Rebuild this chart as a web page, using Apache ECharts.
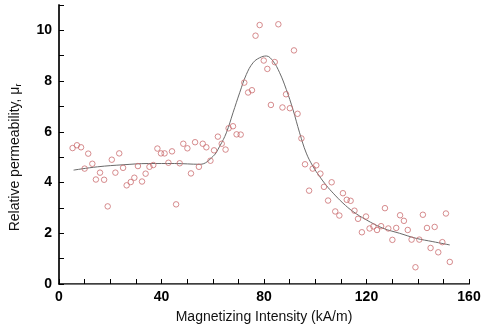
<!DOCTYPE html>
<html>
<head>
<meta charset="utf-8">
<script src="https://cdn.jsdelivr.net/npm/echarts@6/dist/echarts.min.js"></script>
<style>html,body{margin:0;padding:0;background:#fff}#c{width:488px;height:329px}</style>
</head>
<body>
<div id="c"></div>
<script>
// Measured points (magnetizing intensity kA/m, relative permeability)
const measX = [5.3,7.0,8.6,10.0,11.4,13.0,14.4,16.0,17.6,19.0,20.6,22.0,23.5,25.0,26.4,28.0,29.4,30.8,32.4,33.8,35.3,36.8,38.4,39.8,41.2,42.7,44.1,45.7,47.1,48.5,50.1,51.5,53.1,54.6,56.1,57.5,59.1,60.5,62.0,63.5,65.0,66.2,67.9,69.3,70.9,72.3,73.8,75.3,76.7,78.3,79.9,81.3,82.7,84.2,85.6,87.2,88.6,90.1,91.7,93.1,94.6,96.0,97.6,99.0,100.4,102.0,103.4,105.0,106.4,107.8,109.4,110.8,112.3,113.8,115.3,116.7,118.2,119.8,121.2,122.7,124.1,125.7,127.2,128.5,130.1,131.6,133.1,134.6,136.1,137.6,139.1,140.6,142.0,143.6,145.0,146.6,148.0,149.6,151.0,152.5];
const measY = [5.36,5.47,5.39,4.55,5.14,4.74,4.12,4.39,4.11,3.06,4.90,4.39,5.15,4.58,3.89,4.02,4.19,4.65,4.04,4.35,4.62,4.69,5.34,5.15,5.15,4.78,5.23,3.14,4.76,5.53,5.35,4.36,5.59,4.62,5.53,5.39,4.86,5.27,5.81,5.53,5.30,6.14,6.22,5.90,5.89,7.94,7.55,7.64,9.79,10.21,8.81,8.48,7.06,8.75,10.24,6.96,7.48,6.93,9.21,6.71,5.74,4.72,3.68,4.55,4.68,4.35,3.83,3.29,4.01,2.86,2.70,3.58,3.32,3.28,2.89,2.57,2.04,2.66,2.19,2.27,2.13,2.28,2.99,2.19,1.74,2.21,2.71,2.49,2.13,1.75,0.66,1.75,2.73,2.21,1.42,2.25,1.25,1.65,2.78,0.87];
// Fitted curve
const fitX = [5.7,15,25,35,45,55,60.1,62.7,65.3,67.9,70.5,73.1,75.7,78.3,80.9,83.5,86.1,88.7,91.3,93.9,96.5,99.1,101.7,104.3,107,110.8,114.7,119.9,126.4,132.9,139.4,145.9,152.5];
const fitY = [4.49,4.62,4.70,4.75,4.75,4.72,5.03,5.43,5.96,6.75,7.54,8.26,8.72,8.92,8.99,8.79,8.33,7.67,6.88,5.96,5.16,4.64,4.24,3.89,3.58,3.19,2.86,2.53,2.20,2.00,1.80,1.67,1.54];
const xTickLabels = [0,40,80,120,160];
const yTickLabels = [0,2,4,6,8,10];

const font = '"Liberation Sans", Arial, Helvetica, sans-serif';
const chart = echarts.init(document.getElementById('c'), null, {renderer:'canvas'});
chart.setOption({
  animation:false,
  backgroundColor:'#fff',
  grid:{left:59,right:19,top:5,bottom:45,containLabel:false},
  xAxis:[{
    type:'value',min:0,max:160,interval:10,position:'bottom',
    name:'Magnetizing Intensity (kA/m)',nameLocation:'middle',nameGap:26,
    nameTextStyle:{fontFamily:font,fontSize:14,color:'#111'},
    axisLine:{show:true,onZero:false,lineStyle:{color:'#000',width:1.5}},
    axisTick:{show:true,inside:true,length:5,lineStyle:{color:'#000',width:1}},
    axisLabel:{fontFamily:font,fontSize:14,fontWeight:'bold',color:'#000',margin:6,
      formatter:v=>xTickLabels.includes(v)?String(v):''},
    splitLine:{show:false}
  },{
    type:'value',min:0,max:160,position:'top',
    axisLine:{show:true,lineStyle:{color:'#777',width:1}},
    axisTick:{show:false},axisLabel:{show:false},splitLine:{show:false}
  }],
  yAxis:[{
    type:'value',min:0,max:11,interval:1,position:'left',
    name:'Relative permeability, μ{s|r}',nameLocation:'middle',nameGap:36,
    nameTextStyle:{fontFamily:font,fontSize:14,color:'#111',padding:[0,26,0,0],
      rich:{s:{fontFamily:font,fontSize:9,color:'#111',padding:[6,0,0,0]}}},
    axisLine:{show:true,onZero:false,lineStyle:{color:'#000',width:1.5}},
    axisTick:{show:true,inside:true,length:5,lineStyle:{color:'#000',width:1}},
    axisLabel:{fontFamily:font,fontSize:14,fontWeight:'bold',color:'#000',margin:7,
      formatter:v=>yTickLabels.includes(v)?String(v):''},
    splitLine:{show:false}
  },{
    type:'value',min:0,max:11,position:'right',
    axisLine:{show:true,lineStyle:{color:'#222',width:1.5}},
    axisTick:{show:false},axisLabel:{show:false},splitLine:{show:false}
  }],
  series:[{
    type:'line',smooth:0.4,showSymbol:false,symbol:'none',
    data:fitX.map((x,i)=>[x,fitY[i]]),
    lineStyle:{color:'#6a6a6a',width:1},z:2
  },{
    type:'scatter',symbol:'circle',symbolSize:5.5,
    data:measX.map((x,i)=>[x,measY[i]]),
    itemStyle:{color:'rgba(255,255,255,0)',borderColor:'#cc6f72',borderWidth:1},z:3
  }]
});
</script>
</body>
</html>
